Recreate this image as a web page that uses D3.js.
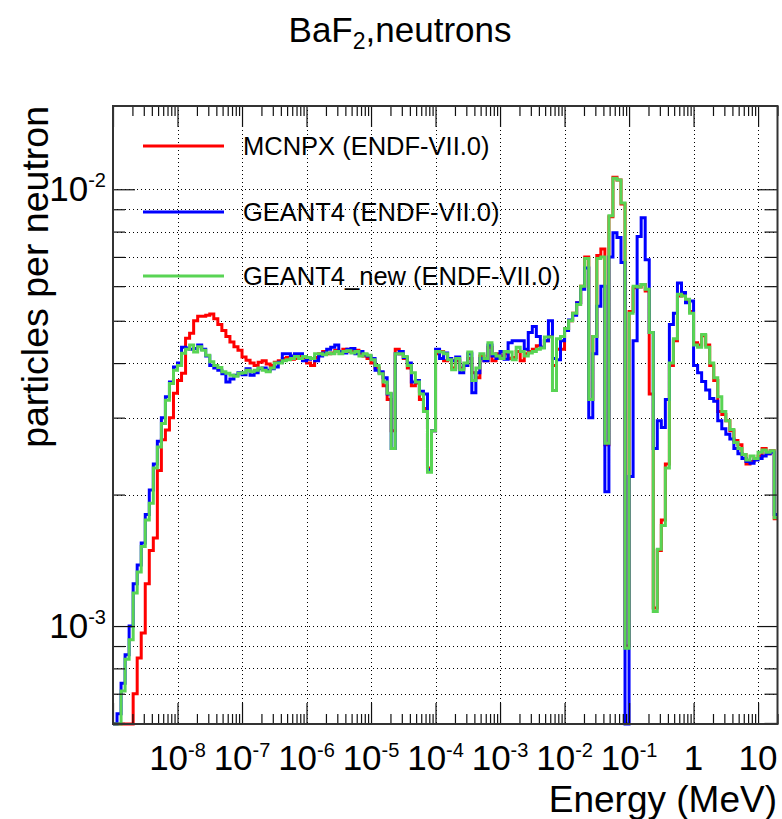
<!DOCTYPE html>
<html><head><meta charset="utf-8">
<script src="https://cdn.jsdelivr.net/npm/d3@7"></script>
<style>
body{margin:0;background:#fff}
svg{display:block}
text{font-family:"Liberation Sans",Arial,Helvetica,sans-serif;fill:#000}
</style>
</head><body>
<svg id="chart" width="782" height="819"></svg>
<script>
// ---------- DATA ----------
const logEnergyStart = -9;     // first bin low edge = 1e-9 MeV
const binsPerDecade = 16;
const energyRange = [1e-9, 20];
const yRange = [5.967e-4, 0.01551];

const seriesNames = ["MCNPX (ENDF-VII.0)", "GEANT4 (ENDF-VII.0)", "GEANT4_new (ENDF-VII.0)"];
const seriesColors = ["#ff0000", "#0000ff", "#59d454"];

const mcnpx = [
4.0e-4,4.0e-4,4.0e-4,4.0e-4,4.0e-4,7.0e-4,8.45e-4,9.64e-4,1.25e-3,1.49e-3,
1.59e-3,2.27e-3,2.67e-3,2.81e-3,3.00e-3,3.41e-3,3.65e-3,3.79e-3,4.56e-3,4.68e-3,
5.00e-3,5.12e-3,5.12e-3,5.15e-3,5.18e-3,5.05e-3,4.90e-3,4.75e-3,4.60e-3,4.47e-3,
4.36e-3,4.28e-3,4.13e-3,4.06e-3,4.00e-3,3.95e-3,4.02e-3,4.05e-3,3.98e-3,3.95e-3,
4.02e-3,4.05e-3,4.10e-3,4.12e-3,4.08e-3,4.10e-3,4.15e-3,4.12e-3,4.00e-3,3.95e-3,
4.12e-3,4.20e-3,4.25e-3,4.20e-3,4.22e-3,4.28e-3,4.25e-3,4.30e-3,4.25e-3,4.27e-3,
4.28e-3,4.20e-3,4.15e-3,4.10e-3,4.00e-3,3.90e-3,3.80e-3,3.55e-3,3.30e-3,2.80e-3,
4.30e-3,4.20e-3,4.10e-3,3.90e-3,3.55e-3,3.60e-3,3.30e-3,3.15e-3,2.30e-3,2.80e-3,
4.20e-3,4.25e-3,4.05e-3,4.10e-3,3.90e-3,4.05e-3,3.90e-3,3.95e-3,4.10e-3,3.80e-3,
3.70e-3,4.15e-3,4.05e-3,4.35e-3,4.05e-3,4.20e-3,4.15e-3,4.20e-3,4.10e-3,4.12e-3,
4.25e-3,4.05e-3,4.20e-3,4.25e-3,4.30e-3,4.38e-3,4.35e-3,4.50e-3,4.60e-3,3.95e-3,
4.30e-3,4.30e-3,4.80e-3,5.00e-3,5.20e-3,5.50e-3,6.00e-3,7.00e-3,3.30e-3,4.60e-3,
7.05e-3,7.30e-3,2.60e-3,8.65e-3,1.065e-2,1.05e-2,9.25e-3,9.0e-4,5.25e-3,5.95e-3,
5.97e-3,6.05e-3,5.85e-3,3.40e-3,1.10e-3,1.49e-3,1.75e-3,2.35e-3,3.95e-3,4.50e-3,
5.70e-3,5.72e-3,5.55e-3,5.25e-3,4.45e-3,4.40e-3,4.62e-3,4.40e-3,3.95e-3,3.65e-3,
3.10e-3,3.05e-3,2.95e-3,2.80e-3,2.66e-3,2.60e-3,2.47e-3,2.35e-3,2.38e-3,2.42e-3,
2.45e-3,2.55e-3,2.48e-3,2.52e-3,1.76e-3];

const geant4 = [
4.0e-4,6.3e-4,7.4e-4,8.6e-4,1.0e-3,1.25e-3,1.38e-3,1.55e-3,1.80e-3,2.05e-3,
2.35e-3,2.65e-3,3.00e-3,3.35e-3,3.62e-3,3.92e-3,4.00e-3,4.35e-3,4.33e-3,4.30e-3,
4.32e-3,4.40e-3,4.30e-3,4.15e-3,3.95e-3,3.90e-3,3.85e-3,3.78e-3,3.62e-3,3.68e-3,
3.75e-3,3.80e-3,3.76e-3,3.88e-3,3.75e-3,3.80e-3,3.88e-3,3.90e-3,3.85e-3,3.88e-3,
3.92e-3,4.02e-3,4.20e-3,4.20e-3,4.15e-3,4.20e-3,4.20e-3,4.05e-3,4.08e-3,4.10e-3,
4.05e-3,4.15e-3,4.22e-3,4.30e-3,4.35e-3,4.40e-3,4.25e-3,4.22e-3,4.30e-3,4.32e-3,
4.20e-3,4.25e-3,4.18e-3,4.15e-3,4.10e-3,3.85e-3,3.82e-3,3.70e-3,3.40e-3,2.55e-3,
4.20e-3,4.25e-3,4.12e-3,4.00e-3,3.62e-3,3.65e-3,3.45e-3,3.40e-3,2.28e-3,2.80e-3,
4.30e-3,4.10e-3,4.22e-3,4.10e-3,4.05e-3,4.13e-3,3.80e-3,3.95e-3,4.20e-3,3.42e-3,
3.80e-3,4.10e-3,4.05e-3,4.40e-3,4.15e-3,4.10e-3,4.25e-3,4.08e-3,4.45e-3,4.50e-3,
4.50e-3,4.50e-3,4.30e-3,4.70e-3,4.85e-3,4.60e-3,4.35e-3,4.50e-3,5.00e-3,4.10e-3,
4.07e-3,4.50e-3,4.75e-3,5.02e-3,5.15e-3,5.50e-3,5.90e-3,6.60e-3,3.00e-3,4.20e-3,
5.40e-3,6.00e-3,2.03e-3,7.00e-3,7.95e-3,7.75e-3,6.80e-3,4.0e-4,2.20e-3,4.50e-3,
7.80e-3,8.60e-3,6.90e-3,4.70e-3,2.55e-3,2.95e-3,2.85e-3,3.30e-3,4.90e-3,5.20e-3,
6.10e-3,5.80e-3,5.50e-3,5.55e-3,3.95e-3,3.80e-3,3.63e-3,3.47e-3,3.32e-3,3.27e-3,
2.95e-3,2.83e-3,2.75e-3,2.68e-3,2.55e-3,2.48e-3,2.42e-3,2.38e-3,2.36e-3,2.40e-3,
2.42e-3,2.45e-3,2.48e-3,2.50e-3,1.80e-3];

const geant4New = [
4.0e-4,4.5e-4,7.1e-4,8.4e-4,9.3e-4,1.19e-3,1.33e-3,1.52e-3,1.75e-3,1.91e-3,
2.30e-3,2.57e-3,2.91e-3,3.29e-3,3.59e-3,3.85e-3,3.95e-3,4.21e-3,4.30e-3,4.40e-3,
4.24e-3,4.36e-3,4.28e-3,4.17e-3,4.03e-3,3.95e-3,3.91e-3,3.82e-3,3.79e-3,3.75e-3,
3.73e-3,3.79e-3,3.80e-3,3.85e-3,3.82e-3,3.85e-3,3.90e-3,3.85e-3,3.82e-3,3.90e-3,
4.00e-3,4.00e-3,4.05e-3,4.07e-3,4.10e-3,4.14e-3,4.10e-3,4.14e-3,4.12e-3,4.10e-3,
4.20e-3,4.20e-3,4.18e-3,4.22e-3,4.20e-3,4.25e-3,4.20e-3,4.25e-3,4.27e-3,4.22e-3,
4.25e-3,4.15e-3,4.20e-3,4.17e-3,4.07e-3,3.95e-3,3.78e-3,3.62e-3,3.41e-3,2.55e-3,
4.20e-3,4.20e-3,4.14e-3,3.95e-3,3.80e-3,3.62e-3,3.40e-3,3.10e-3,2.25e-3,2.80e-3,
4.25e-3,4.24e-3,4.20e-3,4.07e-3,3.86e-3,4.10e-3,3.86e-3,4.00e-3,4.24e-3,3.65e-3,
3.90e-3,4.20e-3,4.10e-3,4.45e-3,4.20e-3,4.15e-3,4.10e-3,4.25e-3,4.24e-3,4.07e-3,
4.35e-3,4.25e-3,4.15e-3,4.22e-3,4.25e-3,4.30e-3,4.33e-3,4.59e-3,4.59e-3,3.46e-3,
4.55e-3,4.60e-3,4.80e-3,5.00e-3,5.20e-3,5.45e-3,6.00e-3,6.94e-3,3.30e-3,4.60e-3,
6.94e-3,7.00e-3,2.62e-3,8.70e-3,1.06e-2,1.05e-2,9.30e-3,8.9e-4,5.20e-3,6.00e-3,
5.97e-3,6.05e-3,5.90e-3,4.70e-3,1.08e-3,1.50e-3,1.70e-3,2.30e-3,4.00e-3,4.55e-3,
5.75e-3,5.70e-3,5.60e-3,5.20e-3,4.40e-3,4.35e-3,4.65e-3,4.35e-3,4.00e-3,3.70e-3,
3.35e-3,3.10e-3,2.95e-3,2.82e-3,2.63e-3,2.55e-3,2.47e-3,2.40e-3,2.45e-3,2.42e-3,
2.50e-3,2.53e-3,2.50e-3,2.52e-3,1.77e-3];

const xLabelValues = [1e-8,1e-7,1e-6,1e-5,1e-4,1e-3,1e-2,1e-1,1,10];
const xLabelBase   = ["10","10","10","10","10","10","10","10","1","10"];
const xLabelExp    = ["-8","-7","-6","-5","-4","-3","-2","-1","",""];
const yLabelValues = [1e-3, 1e-2];
const yLabelBase   = ["10","10"];
const yLabelExp    = ["-3","-2"];

const titleMain = "BaF", titleSub = "2", titleRest = ",neutrons";
const xTitle = "Energy (MeV)";
const yTitle = "particles per neutron";

// ---------- LAYOUT ----------
const svg = d3.select("#chart");
const L = 113, T = 106, R = 777.5, B = 724;
const x = d3.scaleLog().domain(energyRange).range([L, R]);
const y = d3.scaleLog().domain(yRange).range([B, T]);

// tick value sets
const xMajor = d3.range(-9, 2).map(e => Math.pow(10, e));
const xMinor = [];
for (let e = -9; e <= 1; e++) for (let m = 2; m <= 9; m++) { const v = m * Math.pow(10, e); if (v <= energyRange[1]) xMinor.push(v); }
const yMajor = [1e-3, 1e-2];
const yMinor = [6e-4,7e-4,8e-4,9e-4,2e-3,3e-3,4e-3,5e-3,6e-3,7e-3,8e-3,9e-3];

// ---------- GRID ----------
const grid = svg.append("g").attr("stroke", "#000").attr("stroke-width", 1).attr("stroke-dasharray", "1,3").attr("shape-rendering","crispEdges");
xMajor.filter(v => v > energyRange[0]).forEach(v => {
  const px = Math.round(x(v)) + 0.5;
  grid.append("line").attr("x1", px).attr("x2", px).attr("y1", T).attr("y2", B);
});
yMajor.concat(yMinor).forEach(v => {
  const py = Math.round(y(v)) + 0.5;
  grid.append("line").attr("x1", L).attr("x2", R).attr("y1", py).attr("y2", py);
});

// ---------- HISTOGRAMS ----------
svg.append("defs").append("clipPath").attr("id", "frameClip")
  .append("rect").attr("x", L).attr("y", T - 2).attr("width", R - L).attr("height", B - T + 4);

const line = d3.line();
function histPoints(values) {
  const pts = [];
  values.forEach((v, k) => {
    const e0 = Math.pow(10, logEnergyStart + k / binsPerDecade);
    const e1 = Math.pow(10, logEnergyStart + (k + 1) / binsPerDecade);
    const vv = Math.min(Math.max(v, yRange[0]), yRange[1]);
    pts.push([x(e0), y(vv)], [x(e1), y(vv)]);
  });
  return pts;
}
const histG = svg.append("g").attr("clip-path", "url(#frameClip)");
[mcnpx, geant4, geant4New].forEach((vals, i) => {
  histG.append("path").attr("d", line(histPoints(vals)))
    .attr("fill", "none").attr("stroke", seriesColors[i]).attr("stroke-width", 3)
    .attr("stroke-linejoin", "miter");
});

// ---------- AXES / TICKS ----------
function ticks(axisGen, values, size, tr) {
  const g = svg.append("g").attr("transform", tr)
    .call(axisGen.tickValues(values).tickSize(size).tickFormat(""));
  g.select(".domain").remove();
  g.selectAll("line").attr("stroke", "#111").attr("stroke-width", 1.2);
}
ticks(d3.axisBottom(x), xMajor, -21, `translate(0,${B})`);
ticks(d3.axisBottom(x), xMinor, -10, `translate(0,${B})`);
ticks(d3.axisTop(x), xMajor, -21, `translate(0,${T})`);
ticks(d3.axisTop(x), xMinor, -10, `translate(0,${T})`);
ticks(d3.axisLeft(y), yMajor, -22, `translate(${L},0)`);
ticks(d3.axisLeft(y), yMinor, -12, `translate(${L},0)`);
ticks(d3.axisRight(y), yMajor, -20, `translate(${R},0)`);
ticks(d3.axisRight(y), yMinor, -13, `translate(${R},0)`);

// frame
svg.append("rect").attr("x", L).attr("y", T).attr("width", R - L).attr("height", B - T)
  .attr("fill", "none").attr("stroke", "#333").attr("stroke-width", 2);

// x tick labels
xLabelValues.forEach((v, i) => {
  const t = svg.append("text").attr("x", x(v)).attr("y", 770).attr("text-anchor", "middle").attr("font-size", 35);
  t.append("tspan").text(xLabelBase[i]);
  if (xLabelExp[i]) t.append("tspan").attr("dy", -13).attr("font-size", 20).text(xLabelExp[i]);
});
// y tick labels
yLabelValues.forEach((v, i) => {
  const t = svg.append("text").attr("x", 106).attr("y", y(v) + 12).attr("text-anchor", "end").attr("font-size", 35);
  t.append("tspan").text(yLabelBase[i]);
  t.append("tspan").attr("dy", -14).attr("font-size", 20).text(yLabelExp[i]);
});

// axis titles
svg.append("text").attr("x", 777).attr("y", 812).attr("text-anchor", "end").attr("font-size", 37).text(xTitle);
svg.append("text").attr("transform", `translate(48,${T}) rotate(-90)`).attr("text-anchor", "end")
  .attr("font-size", 37.5).text(yTitle);

// title
const title = svg.append("text").attr("x", 400).attr("y", 42).attr("text-anchor", "middle").attr("font-size", 35);
title.append("tspan").text(titleMain);
title.append("tspan").attr("dy", 7).attr("font-size", 23).text(titleSub);
title.append("tspan").attr("dy", -7).text(titleRest);

// legend
const legY = [146, 212, 276];
seriesNames.forEach((name, i) => {
  svg.append("line").attr("x1", 143).attr("x2", 224).attr("y1", legY[i]).attr("y2", legY[i])
    .attr("stroke", seriesColors[i]).attr("stroke-width", 3);
  svg.append("text").attr("x", 243).attr("y", legY[i] + 9).attr("font-size", 25.5).text(name);
});
</script>
</body></html>
